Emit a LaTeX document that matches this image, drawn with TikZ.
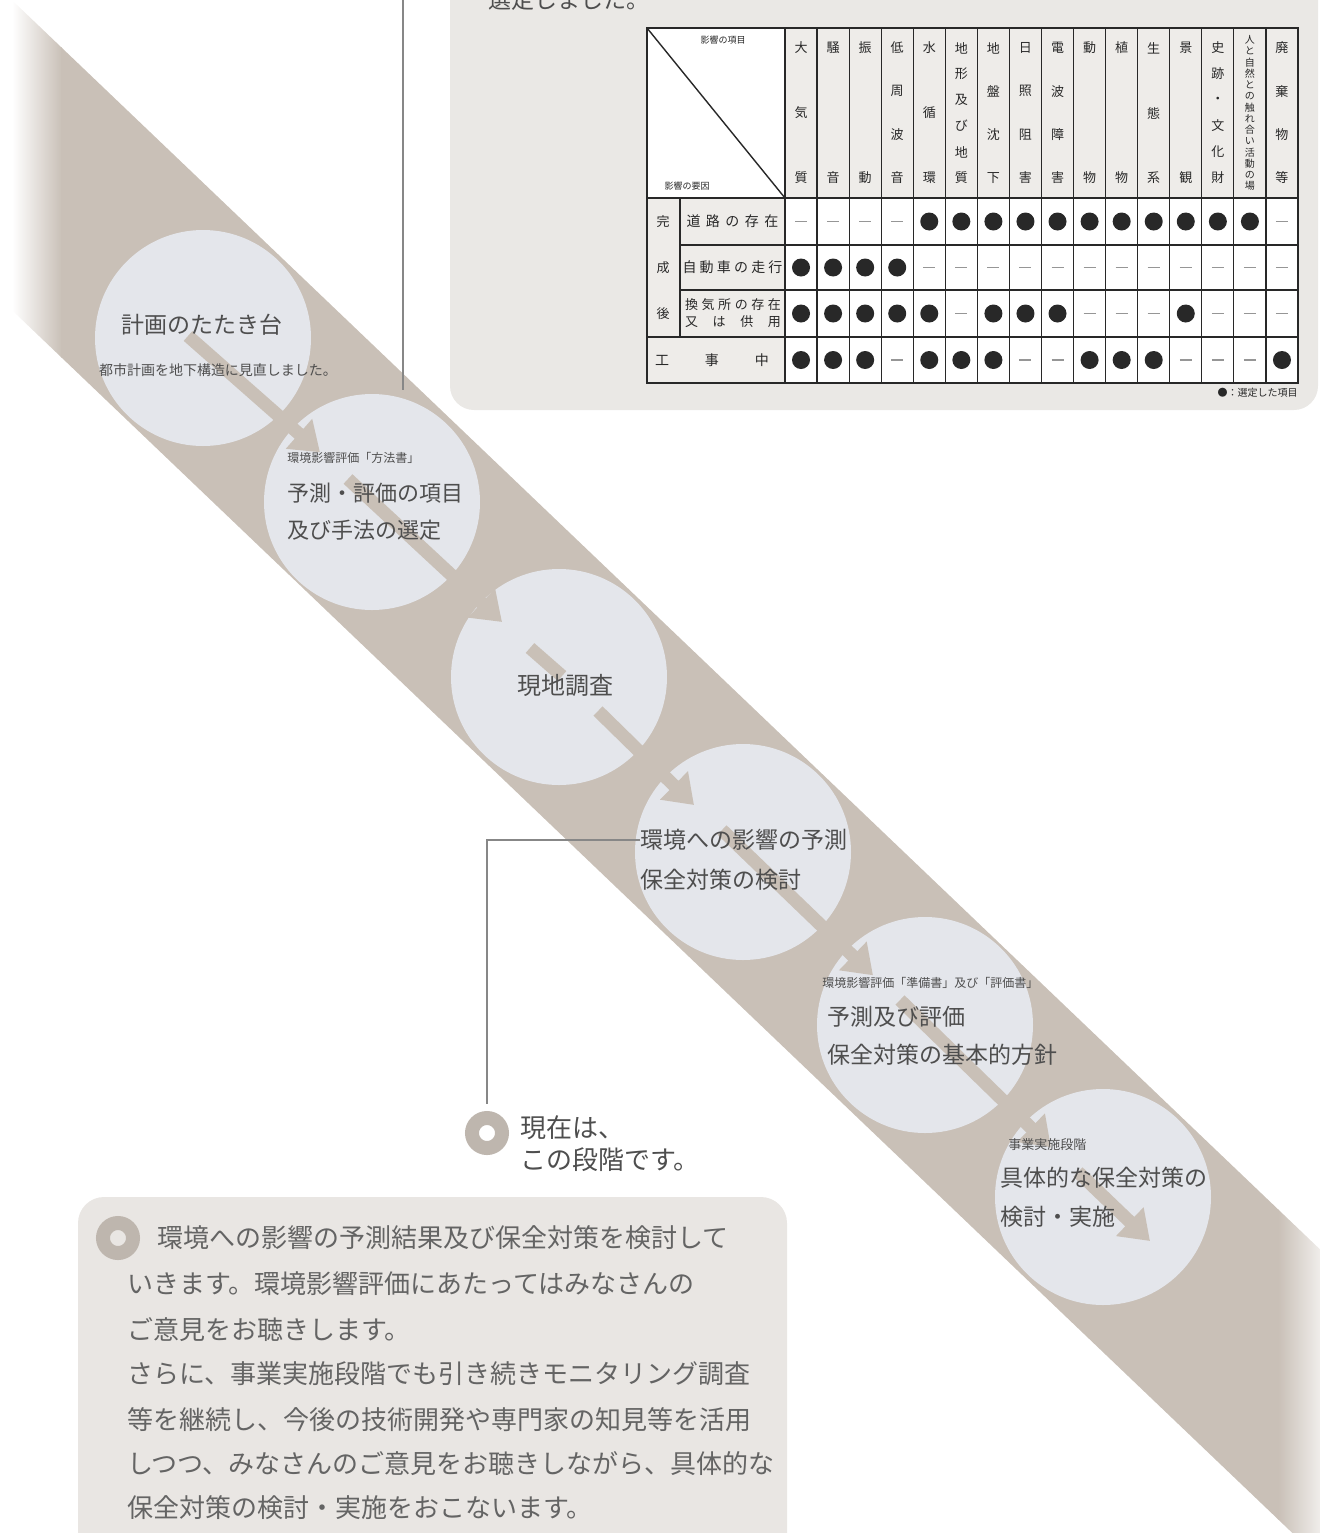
\documentclass[tikz,border=0pt]{standalone}
\usepackage{fontspec}
\setmainfont{Noto Sans CJK JP}
\usetikzlibrary{arrows.meta}
\definecolor{bandc}{RGB}{201,192,183}
\definecolor{circc}{RGB}{228,230,235}
\definecolor{panelc}{RGB}{234,232,229}
\definecolor{boxc}{RGB}{233,230,227}
\definecolor{hdrc}{RGB}{238,236,233}
\definecolor{txtc}{RGB}{78,78,78}
\definecolor{bodyc}{RGB}{100,100,100}
\definecolor{linec}{RGB}{135,135,135}
\definecolor{ringc}{RGB}{190,182,174}
\definecolor{gridc}{RGB}{40,40,40}
\definecolor{dashc}{RGB}{150,150,150}
\newcommand\fsz[1]{\fontsize{#1}{#1}\selectfont}
\newcommand\hdrcol[5]{%
  \foreach \c [count=\j] in {#5} {
    \node[hch] (h#1-\j) at ({785+(#1-0.5)*32.0625},{#3+(\j-1)*(#4-#3)/(#2-1)}) {\c};
  }}
\newcommand\datarow[3]{%
  \foreach \v [count=\k] in {#3} {
    \ifnum\v=1
      \fill[gridc] ({785+(\k-0.5)*32.0625},#2) circle[radius=9];
    \else
      \draw[dashc, line width=0.7pt] ({785+(\k-0.5)*32.0625-6},#2) -- ++(12,0);
    \fi
  }}
\tikzset{
  stage/.style={circle, fill=circc, minimum size=108pt, inner sep=0pt},
  flow/.style={draw=bandc, line width=6.5pt, -{Triangle[length=14pt,width=19pt]}},
  flowseg/.style={draw=bandc, line width=6.5pt},
  title/.style={text=txtc, font=\fsz{11.5pt}, inner sep=0pt},
  smalltxt/.style={text=txtc, font=\fsz{6pt}, inner sep=0pt},
  body/.style={text=bodyc, font=\fsz{13pt}, inner sep=0pt, anchor=west},
  ring/.style={circle, draw=ringc, line width=7pt, minimum size=15pt, inner sep=0pt},
  hch/.style={text=gridc, font=\fsz{6.5pt}, inner sep=0pt},
  callout/.style={draw=linec, line width=1.1pt},
  lbl/.style={text=gridc, inner sep=0pt},
}
\begin{document}
\begin{tikzpicture}[x=0.5pt,y=-0.5pt]
\useasboundingbox (0,0) rectangle (1320,1533);
\clip (0,0) rectangle (1320,1533);

% top panel
\fill[panelc, rounded corners=12pt] (450,-60) rectangle (1318,410);
\node[anchor=base west, text=txtc, font=\fsz{11.5pt}, inner sep=0pt] (toptext) at (488,8) {選定しました。};

% diagonal band
\begin{scope}
  \clip (-10,-20.8) -- (1330,1258.9) -- (1330,1568.9) -- (-10,289.2) -- cycle;
  \shade[left color=white, right color=bandc] (12,-40) rectangle (62,1600);
  \fill[bandc] (61,-40) rectangle (1279,1600);
  \shade[left color=bandc, right color=white!75!bandc] (1278,-40) rectangle (1322,1600);
\end{scope}

% vertical leader from the panel
\coordinate (vtop) at (403,0);
\coordinate (vbot) at (403,390);
\draw[draw=linec, line width=0.8pt] (vtop) -- (vbot);

% stage circles
\node[stage] (k1) at (203,338) {};
\node[stage] (k2) at (372,502) {};
\node[stage] (k3) at (559,677) {};
\node[stage] (k4) at (743,852) {};
\node[stage] (k5) at (925,1025) {};
\node[stage] (k6) at (1103,1197) {};

% flow arrows (segments with gaps)
\coordinate (a1s) at (188,336);
\coordinate (a1t) at (320,452.3);
\coordinate (a2s) at (348,479);
\coordinate (a2t) at (502,622);
\coordinate (a3s) at (530,648);
\coordinate (a3e) at (562,676);
\coordinate (a3u) at (598,711);
\coordinate (a3t) at (694,805);
\coordinate (a4s) at (722,830);
\coordinate (a4t) at (873,975.3);
\coordinate (a5s) at (900,1000);
\coordinate (a5t) at (1051,1147.3);
\coordinate (a6s) at (1078,1172);
\coordinate (a6t) at (1150,1241);
\draw[flow] (a1s) -- (a1t);
\draw[flow] (a2s) -- (a2t);
\draw[flowseg] (a3s) -- (a3e);
\draw[flow] (a3u) -- (a3t);
\draw[flow] (a4s) -- (a4t);
\draw[flow] (a5s) -- (a5t);
\draw[flow] (a6s) -- (a6t);

% circle texts
\node[title, font=\fsz{11.5pt}] (t1) at (202,325) {計画のたたき台};
\node[smalltxt, font=\fsz{7pt}] (t1s) at (218,370) {都市計画を地下構造に見直しました。};
\node[smalltxt, anchor=west] (t2s) at (287,458) {環境影響評価「方法書」};
\node[title, anchor=west, font=\fsz{11pt}] (t2a) at (287,493) {予測・評価の項目};
\node[title, anchor=west, font=\fsz{11pt}] (t2b) at (287,530) {及び手法の選定};
\node[title, font=\fsz{12pt}] (t3) at (565,685) {現地調査};
\node[title, anchor=west] (t4a) at (640,840) {環境への影響の予測};
\node[title, anchor=west] (t4b) at (640,880) {保全対策の検討};
\node[smalltxt, anchor=west] (t5s) at (822,983) {環境影響評価「準備書」及び「評価書」};
\node[title, anchor=west] (t5a) at (827,1017) {予測及び評価};
\node[title, anchor=west] (t5b) at (827,1055) {保全対策の基本的方針};
\node[smalltxt, anchor=west, font=\fsz{6.5pt}] (t6s) at (1008,1145) {事業実施段階};
\node[title, anchor=west] (t6a) at (1000,1178) {具体的な保全対策の};
\node[title, anchor=west] (t6b) at (1000,1217) {検討・実施};

% current stage marker
\node[ring] (now) at (487,1133) {};
\coordinate (bend) at (487,840);
\draw[callout, shorten >=3.5pt] (t4a.west) -- (bend) -- (now.north);
\node[body, text=txtc] (nowa) at (520,1128) {現在は、};
\node[body, text=txtc] (nowb) at (520,1160) {この段階です。};

% bottom text box
\fill[boxc, rounded corners=13pt] (78,1197) rectangle (787,1600);
\node[ring] (mk) at (118,1238) {};
\node[body] (b1) at (157,1238) {環境への影響の予測結果及び保全対策を検討して};
\node[body] (b2) at (127,1284) {いきます。環境影響評価にあたってはみなさんの};
\node[body] (b3) at (127,1330) {ご意見をお聴きします。};
\node[body] (b4) at (127,1374) {さらに、事業実施段階でも引き続きモニタリング調査};
\node[body] (b5) at (127,1420) {等を継続し、今後の技術開発や専門家の知見等を活用};
\node[body] (b6) at (127,1464) {しつつ、みなさんのご意見をお聴きしながら、具体的な};
\node[body] (b7) at (127,1508) {保全対策の検討・実施をおこないます。};

% ---------- table ----------
\fill[hdrc] (785,28) rectangle (1298,198);
\fill[white] (647,28) rectangle (785,198);
\fill[hdrc] (647,198) rectangle (785,383);
\fill[white] (785,198) rectangle (1298,383);
\foreach \k in {1,...,15} {
  \draw[gridc, line width=0.6pt] ({785+\k*32.0625},28) -- ({785+\k*32.0625},383);
}
\draw[gridc, line width=0.9pt] (785,28) -- (785,383);
\draw[gridc, line width=0.6pt] (680,198) -- (680,337);
\draw[gridc, line width=0.6pt] (680,245) -- (1298,245);
\draw[gridc, line width=0.6pt] (680,290) -- (1298,290);
\draw[gridc, line width=1.0pt] (647,337) -- (1298,337);
\draw[gridc, line width=1.0pt] (647,198) -- (1298,198);
\draw[gridc, line width=0.7pt] (647,28) -- (785,198);
\draw[gridc, line width=1.2pt] (647,28) rectangle (1298,383);

\node[lbl, font=\fsz{4.5pt}] (dtop) at (723,40) {影響の項目};
\node[lbl, font=\fsz{4.5pt}] (dbot) at (687,186) {影響の要因};

\hdrcol{1}{3}{48}{178}{大,気,質}
\hdrcol{2}{2}{48}{178}{騒,音}
\hdrcol{3}{2}{48}{178}{振,動}
\hdrcol{4}{4}{48}{178}{低,周,波,音}
\hdrcol{5}{3}{48}{178}{水,循,環}
\hdrcol{6}{6}{48}{178}{地,形,及,び,地,質}
\hdrcol{7}{4}{48}{178}{地,盤,沈,下}
\hdrcol{8}{4}{48}{178}{日,照,阻,害}
\hdrcol{9}{4}{48}{178}{電,波,障,害}
\hdrcol{10}{2}{48}{178}{動,物}
\hdrcol{11}{2}{48}{178}{植,物}
\hdrcol{12}{3}{48}{178}{生,態,系}
\hdrcol{13}{2}{48}{178}{景,観}
\hdrcol{14}{6}{48}{178}{史,跡,・,文,化,財}
\begin{scope}[hch/.append style={font=\fsz{5pt}}]
\hdrcol{15}{14}{40}{186}{人,と,自,然,と,の,触,れ,合,い,活,動,の,場}
\end{scope}
\hdrcol{16}{4}{48}{178}{廃,棄,物,等}

\node[lbl, font=\fsz{6.5pt}] (kan) at (663,221.5) {完};
\node[lbl, font=\fsz{6.5pt}] (sei) at (663,267.5) {成};
\node[lbl, font=\fsz{6.5pt}] (go) at (663,313.5) {後};
\node[lbl, font=\fsz{7pt}] (r1) at (732.5,221.5) {\makebox[46pt]{道\hfill 路\hfill の\hfill 存\hfill 在}};
\node[lbl, font=\fsz{7pt}] (r2) at (732.5,267.5) {\makebox[50pt]{自\hfill 動\hfill 車\hfill の\hfill 走\hfill 行}};
\node[lbl, font=\fsz{6.5pt}] (r3a) at (733,305) {\makebox[48pt]{換\hfill 気\hfill 所\hfill の\hfill 存\hfill 在}};
\node[lbl, font=\fsz{6.5pt}] (r3b) at (733,322) {\makebox[48pt]{又\hfill は\hfill 供\hfill 用}};
\node[lbl, font=\fsz{7pt}] (r4) at (712,360) {\makebox[57pt]{工\hfill 事\hfill 中}};

\datarow{1}{221.5}{0,0,0,0,1,1,1,1,1,1,1,1,1,1,1,0}
\datarow{2}{267.5}{1,1,1,1,0,0,0,0,0,0,0,0,0,0,0,0}
\datarow{3}{313.5}{1,1,1,1,1,0,1,1,1,0,0,0,1,0,0,0}
\datarow{4}{360}{1,1,1,0,1,1,1,0,0,1,1,1,0,0,0,1}

\node[lbl, anchor=east, font=\fsz{5pt}] (legend) at (1298,393) {●：選定した項目};
\end{tikzpicture}
\end{document}
